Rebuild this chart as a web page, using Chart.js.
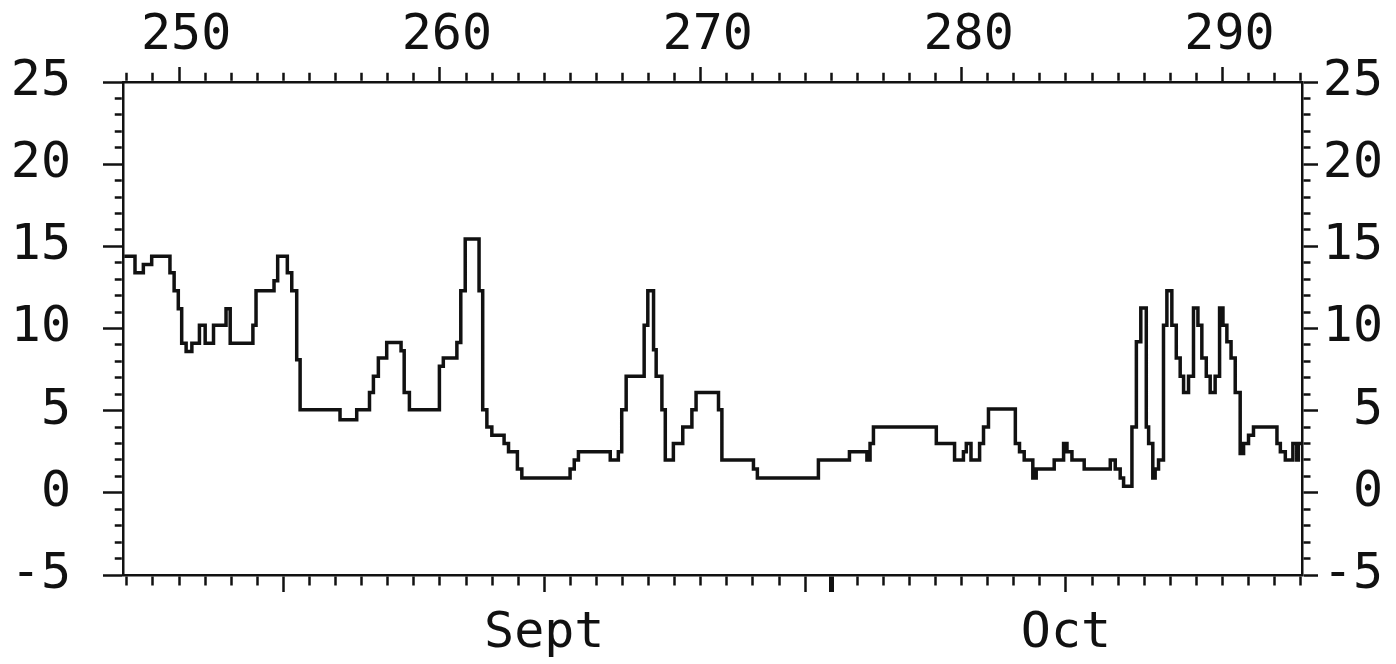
<!DOCTYPE html>
<html>
<head>
<meta charset="utf-8">
<title>Step series, days 248-293</title>
<script src="https://cdn.jsdelivr.net/npm/chart.js@4.4.1/dist/chart.umd.min.js"></script>
<style>
  html, body { margin: 0; padding: 0; background: #fff; }
  #wrap { width: 1396px; height: 664px; }
</style>
</head>
<body>
<div id="wrap"><canvas id="step-chart"></canvas></div>
<script>
// day of year where each step starts, and the value held until the next one
var stepDays = [
  247.9, 248.31, 248.63, 248.95, 249.65, 249.81, 249.97, 250.10, 250.27, 250.49,
  250.78, 251.00, 251.32, 251.80, 251.96, 252.83, 252.95, 253.64, 253.78, 254.15,
  254.32, 254.51, 254.64, 256.17, 256.81, 257.30, 257.45, 257.64, 257.96, 258.51,
  258.63, 258.83, 259.98, 260.13, 260.65, 260.80, 260.97, 261.50, 261.64, 261.80,
  261.99, 262.46, 262.63, 262.97, 263.14, 264.99, 265.15, 265.31, 266.53, 266.84,
  266.97, 267.14, 267.83, 267.97, 268.19, 268.29, 268.51, 268.64, 268.95, 269.31,
  269.66, 269.82, 270.68, 270.81, 272.02, 272.17, 274.51, 275.70, 276.37, 276.49,
  276.62, 279.03, 279.73, 280.07, 280.18, 280.36, 280.69, 280.84, 281.03, 282.06,
  282.22, 282.40, 282.73, 282.86, 283.55, 283.91, 284.04, 284.23, 284.70, 285.70,
  285.89, 286.08, 286.21, 286.53, 286.70, 286.87, 287.08, 287.17, 287.33, 287.42,
  287.55, 287.74, 287.87, 288.06, 288.23, 288.38, 288.51, 288.70, 288.89, 289.06,
  289.21, 289.38, 289.53, 289.72, 289.89, 290.02, 290.17, 290.33, 290.49, 290.68,
  290.81, 291.00, 291.19, 292.09, 292.22, 292.41, 292.70, 292.85, 292.91, 293.05
];
var stepValues = [
  14.4, 13.4, 13.9, 14.4, 13.4, 12.3, 11.2, 9.1, 8.6, 9.1,
  10.2, 9.1, 10.2, 11.2, 9.1, 10.2, 12.3, 12.9, 14.4, 13.4,
  12.3, 8.1, 5.05, 4.45, 5.05, 6.1, 7.1, 8.2, 9.15, 8.65,
  6.1, 5.05, 7.7, 8.2, 9.15, 12.3, 15.45, 12.3, 5.05, 4.0,
  3.5, 3.0, 2.5, 1.45, 0.9, 1.45, 2.0, 2.5, 2.0, 2.5,
  5.05, 7.1, 10.2, 12.3, 8.7, 7.1, 5.05, 2.0, 3.0, 4.0,
  5.05, 6.1, 5.05, 2.0, 1.45, 0.9, 2.0, 2.5, 2.0, 3.0,
  4.0, 3.0, 2.0, 2.5, 3.0, 2.0, 3.0, 4.0, 5.1, 3.0,
  2.5, 2.0, 0.9, 1.45, 2.0, 3.0, 2.5, 2.0, 1.45, 2.0,
  1.45, 0.9, 0.4, 4.0, 9.2, 11.25, 4.0, 3.0, 0.9, 1.45,
  2.0, 10.2, 12.3, 10.2, 8.2, 7.1, 6.1, 7.1, 11.25, 10.2,
  8.2, 7.1, 6.1, 7.1, 11.25, 10.2, 9.2, 8.2, 6.1, 2.4,
  3.0, 3.5, 4.0, 3.0, 2.5, 2.0, 3.0, 2.0, 3.0, 3.0
];

// axes
var dayMin = 247.85, dayMax = 293.05;
var valueMin = -5, valueMax = 25;
var topLabelEvery = 10;          // 250, 260 ... 290
var valueLabelEvery = 5;         // -5, 0 ... 25
var monthTicks = [264, 284];
var monthLabels = ['Sept', 'Oct'];
var bottomMajorTicks = [254, 264, 274, 275, 284];
var monthBoundary = 275;

var INK = '#111';
var tickFont = { family: "'DejaVu Sans Mono', monospace", size: 50 };

// minor ticks are shortened with a dash pattern; drawn outer->axis on top/left, axis->outer on bottom/right
function dashFor(major, outerFirst, full, minor) {
  if (major) return [];
  return outerFirst ? [0, full - 1.25 - minor, minor, 1000] : [minor, 1000];
}

function tickValue(ctx) {
  return ctx && ctx.tick ? ctx.tick.value : null;
}

document.addEventListener('DOMContentLoaded', initializeApp);

function initializeApp() {
  createStepChart();
}

function createStepChart() {
  var points = stepDays.map(function (d, i) { return { x: d, y: stepValues[i] }; });

  new Chart(document.getElementById('step-chart'), {
    type: 'line',
    data: {
      datasets: [{
        data: points,
        stepped: 'before',
        borderColor: INK,
        borderWidth: 3.5,
        pointRadius: 0,
        fill: false
      }]
    },
    options: {
      responsive: true,
      maintainAspectRatio: false,
      devicePixelRatio: 1,
      animation: false,
      layout: { padding: { left: 0, top: 0, bottom: 0, right: 13 } },
      plugins: {
        legend: { display: false },
        tooltip: { enabled: false }
      },
      scales: {
        x: {
          type: 'linear', position: 'bottom', min: dayMin, max: dayMax,
          afterFit: function (s) { s.height = 89; },
          border: { display: true, color: INK, width: 2.5 },
          grid: {
            drawOnChartArea: false, tickLength: 17, tickColor: INK,
            tickWidth: function (ctx) { return tickValue(ctx) === monthBoundary ? 5 : 2.5; },
            tickBorderDash: function (ctx) {
              return dashFor(bottomMajorTicks.indexOf(tickValue(ctx)) >= 0, false, 17, 9);
            }
          },
          ticks: {
            stepSize: 1, autoSkip: false, includeBounds: false, maxRotation: 0, minRotation: 0,
            padding: 12, color: INK, font: tickFont,
            callback: function (v) {
              var i = monthTicks.indexOf(v);
              return i >= 0 ? monthLabels[i] : '';
            }
          }
        },
        x2: {
          type: 'linear', position: 'top', min: dayMin, max: dayMax,
          afterFit: function (s) { s.height = 82; },
          border: { display: true, color: INK, width: 2.5 },
          grid: {
            drawOnChartArea: false, tickLength: 15, tickColor: INK, tickWidth: 2.5,
            tickBorderDash: function (ctx) {
              return dashFor(tickValue(ctx) % topLabelEvery === 0, true, 15, 8);
            }
          },
          ticks: {
            stepSize: 1, autoSkip: false, includeBounds: false, maxRotation: 0, minRotation: 0,
            padding: 1, labelOffset: 7, color: INK, font: tickFont,
            callback: function (v) { return v % topLabelEvery === 0 ? String(v) : ''; }
          }
        },
        y: {
          type: 'linear', position: 'left', min: valueMin, max: valueMax,
          afterFit: function (s) { s.width = 123; },
          border: { display: true, color: INK, width: 2.5 },
          grid: {
            drawOnChartArea: false, tickLength: 20, tickColor: INK, tickWidth: 2.5,
            tickBorderDash: function (ctx) {
              return dashFor(tickValue(ctx) % valueLabelEvery === 0, true, 20, 7);
            }
          },
          ticks: {
            stepSize: 1, autoSkip: false, padding: 32, color: INK, font: tickFont,
            callback: function (v) { return v % valueLabelEvery === 0 ? String(v) : ''; }
          }
        },
        y2: {
          type: 'linear', position: 'right', min: valueMin, max: valueMax,
          afterFit: function (s) { s.width = 81; },
          border: { display: true, color: INK, width: 2.5 },
          grid: {
            drawOnChartArea: false, tickLength: 16, tickColor: INK, tickWidth: 2.5,
            tickBorderDash: function (ctx) {
              return dashFor(tickValue(ctx) % valueLabelEvery === 0, false, 16, 7);
            }
          },
          ticks: {
            stepSize: 1, autoSkip: false, padding: 8, crossAlign: 'far', color: INK, font: tickFont,
            callback: function (v) { return v % valueLabelEvery === 0 ? String(v) : ''; }
          }
        }
      }
    }
  });
}
</script>
</body>
</html>
